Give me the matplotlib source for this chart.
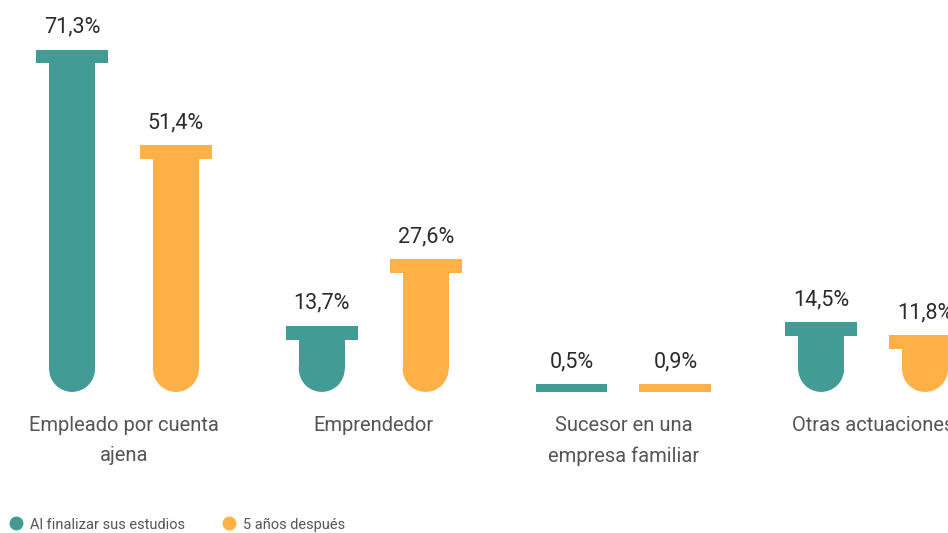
import matplotlib.pyplot as plt
from matplotlib.patches import Ellipse
from matplotlib.lines import Line2D

# Datos
categorias = ['Empleado por cuenta\najena', 'Emprendedor', 'Sucesor en una\nempresa familiar', 'Otras actuaciones']
al_finalizar = [71.3, 13.7, 0.5, 14.5]
cinco_anos = [51.4, 27.6, 0.9, 11.8]
series = ['Al finalizar sus estudios', '5 años después']

verde = '#429B94'
naranja = '#FFB047'

plt.rcParams['font.family'] = ['Roboto', 'Liberation Sans', 'DejaVu Sans']

fig = plt.figure(figsize=(9.48, 5.33), dpi=100)
ax = fig.add_axes([0, 0, 1, 1])
ax.set_xlim(-0.4966, 3.300)
ax.set_ylim(-29.4, 81.67)
ax.axis('off')

desplaz = 0.208
ancho_tapa = 0.288
ancho_cuerpo = 0.184
alto_tapa = 2.8
radio_y = 4.8


def tubo(x, v, color):
    # tubo de ensayo: tapa ancha arriba, cuerpo estrecho con fondo redondo
    if v < alto_tapa + radio_y:
        ax.bar(x, max(v, 1.6), width=ancho_tapa, bottom=0, color=color, linewidth=0)
        return max(v, 1.6)
    ax.bar(x, alto_tapa, width=ancho_tapa, bottom=v - alto_tapa, color=color, linewidth=0)
    ax.bar(x, v - alto_tapa - radio_y + 0.2, width=ancho_cuerpo, bottom=radio_y,
           color=color, linewidth=0)
    ax.add_patch(Ellipse((x, radio_y), ancho_cuerpo, 2 * radio_y, color=color, linewidth=0))
    return v


for i, cat in enumerate(categorias):
    for x, v, c in [(i - desplaz, al_finalizar[i], verde), (i + desplaz, cinco_anos[i], naranja)]:
        tope = tubo(x, v, c)
        ax.text(x, tope + 3.6, f'{v:.1f}%'.replace('.', ','), ha='center', va='baseline',
                fontsize=15.5, color='#2b2b2b')
    ax.text(i, -5.0, cat, ha='center', va='top', fontsize=14.5, color='#555555',
            linespacing=1.75)

handles = [Line2D([], [], marker='o', linestyle='', markersize=9, color=verde),
           Line2D([], [], marker='o', linestyle='', markersize=9, color=naranja)]
fig.legend(handles, series, loc='lower left', bbox_to_anchor=(-0.006, -0.022), ncol=2,
           frameon=False, handletextpad=0.35, columnspacing=2.4,
           handlelength=1.2, labelcolor='#555555', prop={'size': 10.5})

plt.savefig('out.png', dpi=100)
